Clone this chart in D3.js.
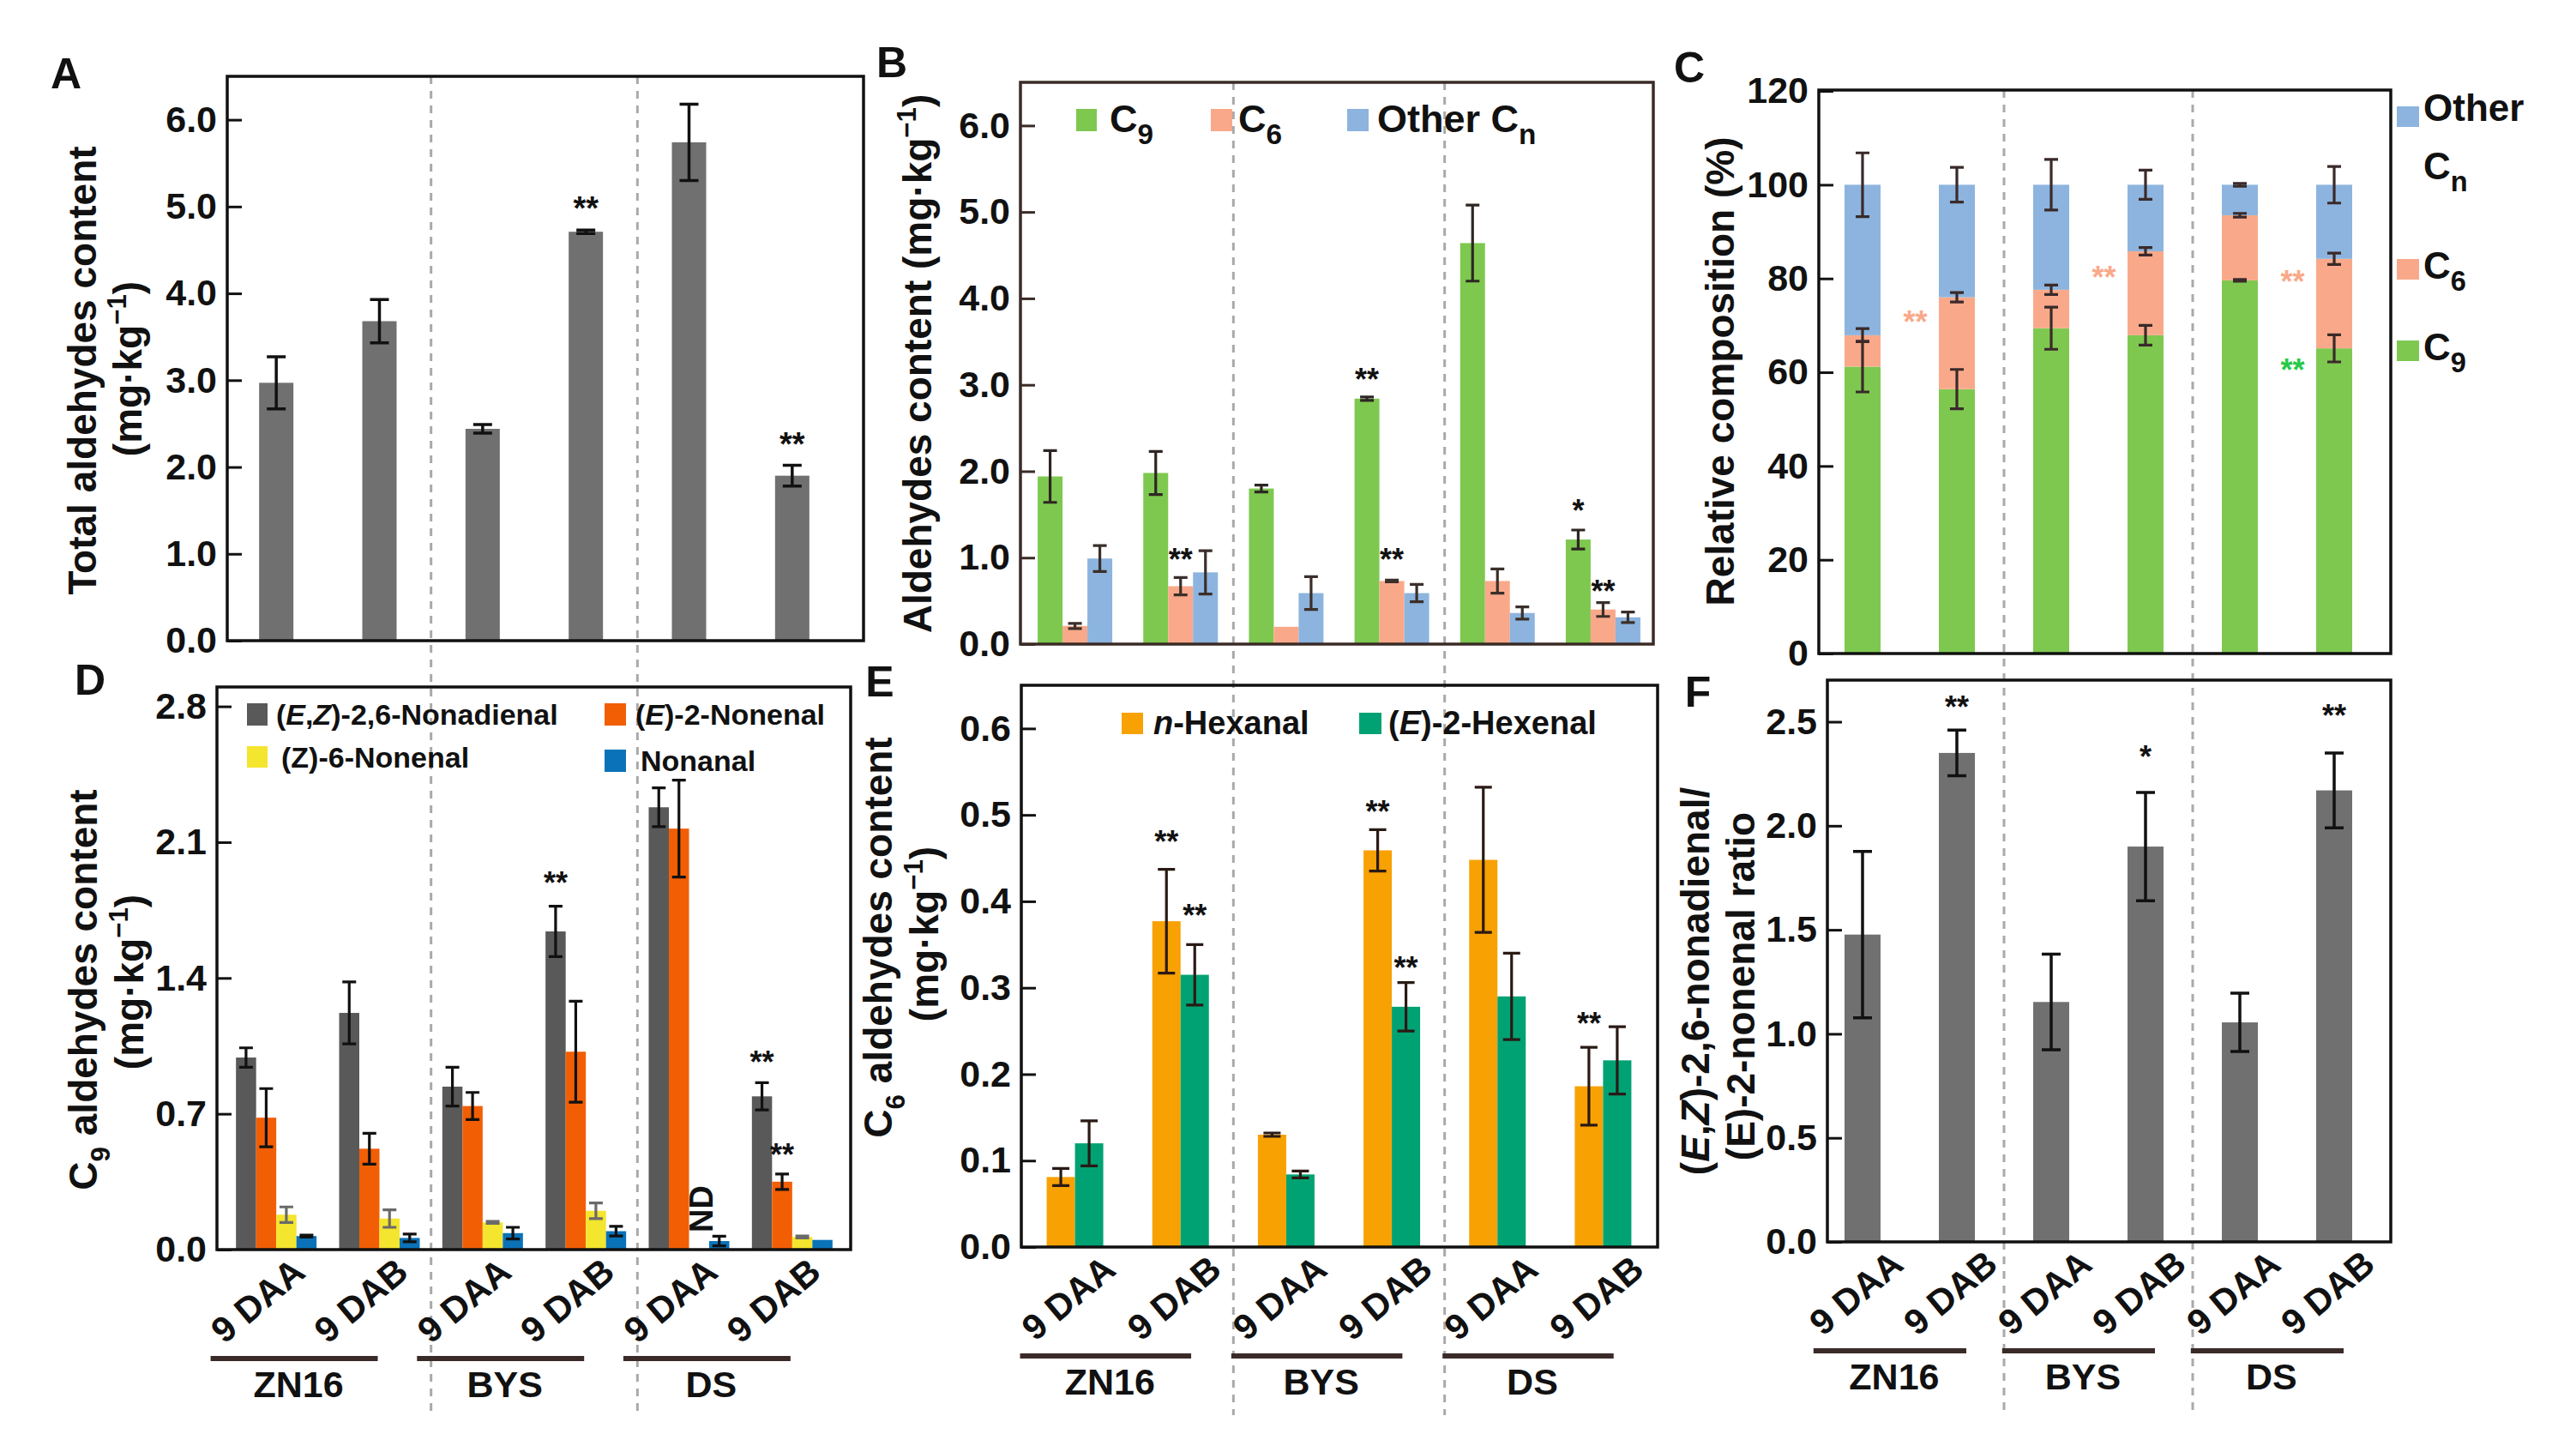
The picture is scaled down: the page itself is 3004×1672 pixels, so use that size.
<!DOCTYPE html>
<html>
<head>
<meta charset="utf-8">
<script src="https://cdn.jsdelivr.net/npm/d3@7"></script>
<style>
  body { margin: 0; background: #fff; }
  svg { display: block; }
</style>
</head>
<body>
<div id="chart"></div>
<script>
// x axis order, shared by every panel
const sampleLabels = ['9 DAA', '9 DAB', '9 DAA', '9 DAB', '9 DAA', '9 DAB'];
const cultivars = ['ZN16', 'BYS', 'DS'];

// A: total aldehydes (mg/kg)
const totalMean = [2.97, 3.68, 2.44, 4.71, 5.74, 1.90];
const totalErr = [0.30, 0.25, 0.05, 0.02, 0.44, 0.12];
const starsA = [{ s: 3, t: '**', v: 5.06 }, { s: 5, t: '**', v: 2.34 }];

// B: aldehydes by chain length (mg/kg)
const c9Mean = [1.94, 1.98, 1.80, 2.84, 4.64, 1.21];
const c9Err = [0.30, 0.25, 0.04, 0.02, 0.44, 0.11];
const c6Mean = [0.21, 0.67, 0.20, 0.73, 0.73, 0.40];
const c6Err = [0.03, 0.10, 0, 0.01, 0.14, 0.08];
const otherMean = [0.99, 0.83, 0.59, 0.59, 0.36, 0.31];
const otherErr = [0.15, 0.25, 0.19, 0.10, 0.07, 0.06];
const starsB = [
  { s: 1, k: 1, t: '**', v: 1.05 }, { s: 3, k: 0, t: '**', v: 3.13 },
  { s: 3, k: 1, t: '**', v: 1.05 }, { s: 5, k: 0, t: '*', v: 1.62 },
  { s: 5, k: 1, t: '**', v: 0.68 }
];

// C: relative composition (%)
const c9Pct = [61.2, 56.4, 69.4, 67.9, 79.6, 65.1];
const c9PctErr = [5.4, 4.2, 4.5, 2.1, 0.2, 2.9];
const c6Pct = [6.7, 19.6, 8.2, 17.9, 13.9, 19.1];
const c6PctErr = [1.4, 1.0, 1.0, 0.8, 0.4, 1.2];
const otherPct = [32.1, 24.0, 22.4, 14.2, 6.5, 15.8];
const otherPctErr = [6.8, 3.7, 5.4, 3.1, 0.3, 3.9];
const starsC = [
  { s: 1, t: '**', v: 72.0, c: 'c6' }, { s: 3, t: '**', v: 81.5, c: 'c6' },
  { s: 5, t: '**', v: 80.6, c: 'c6' }, { s: 5, t: '**', v: 61.8, c: 'c9' }
];

// D: C9 aldehydes (mg/kg)
const nonadienal = [0.99, 1.22, 0.84, 1.64, 2.28, 0.79];
const nonadienalErr = [0.05, 0.16, 0.10, 0.13, 0.10, 0.07];
const e2Nonenal = [0.68, 0.52, 0.74, 1.02, 2.17, 0.35];
const e2NonenalErr = [0.15, 0.08, 0.07, 0.26, 0.25, 0.04];
const z6Nonenal = [0.18, 0.16, 0.14, 0.20, 0, 0.065];
const z6NonenalErr = [0.04, 0.045, 0.005, 0.04, 0, 0.005];
const nonanal = [0.07, 0.06, 0.085, 0.095, 0.044, 0.05];
const nonanalErr = [0.005, 0.02, 0.03, 0.025, 0.025, 0];
const starsD = [{ s: 3, k: 0, t: '**', v: 1.92 }, { s: 5, k: 0, t: '**', v: 1.00 }, { s: 5, k: 1, t: '**', v: 0.52 }];
const ndD = [{ s: 4, k: 2, v: 0.21 }];

// E: C6 aldehydes (mg/kg)
const hexanal = [0.081, 0.377, 0.130, 0.459, 0.448, 0.186];
const hexanalErr = [0.010, 0.060, 0.002, 0.024, 0.084, 0.045];
const hexenal = [0.120, 0.315, 0.084, 0.278, 0.290, 0.216];
const hexenalErr = [0.026, 0.035, 0.004, 0.028, 0.050, 0.039];
const starsE = [
  { s: 1, k: 0, t: '**', v: 0.476 }, { s: 1, k: 1, t: '**', v: 0.391 },
  { s: 3, k: 0, t: '**', v: 0.511 }, { s: 3, k: 1, t: '**', v: 0.330 },
  { s: 5, k: 0, t: '**', v: 0.266 }
];

// F: (E,Z)-2,6-nonadienal / (E)-2-nonenal
const ratioMean = [1.477, 2.35, 1.153, 1.90, 1.055, 2.17];
const ratioErr = [0.40, 0.11, 0.23, 0.26, 0.14, 0.18];
const starsF = [{ s: 1, t: '**', v: 2.60 }, { s: 3, t: '*', v: 2.36 }, { s: 5, t: '**', v: 2.56 }];

// tick labels
const ticksA = [0, 1, 2, 3, 4, 5, 6];
const ticksC = [0, 20, 40, 60, 80, 100, 120];
const ticksD = [0, 0.7, 1.4, 2.1, 2.8];
const ticksE = [0, 0.1, 0.2, 0.3, 0.4, 0.5, 0.6];
const ticksF = [0, 0.5, 1.0, 1.5, 2.0, 2.5];

const FONT = '"Liberation Sans", Arial, Helvetica, sans-serif';
const COL = {
  gray: '#707070', c9: '#7ec850', c6: '#f9a98a', cn: '#8cb4de',
  dGray: '#595959', dOrange: '#f25e04', dYellow: '#f4e52e', dBlue: '#0a72b8',
  eOrange: '#f8a102', eGreen: '#00a273', starGreen: '#27c94a'
};

const W = 3004, H = 1672;
const svg = d3.select('#chart').append('svg')
  .attr('width', W).attr('height', H)
  .attr('font-family', FONT)
  .style('background', '#fff');

const idx = d3.range(6);
const xCol = [
  d3.scaleBand().domain(idx).range([262, 984]),
  d3.scaleBand().domain(idx).range([1192, 1931]),
  d3.scaleBand().domain(idx).range([2117, 2777])
];
const cx = (s, i) => s(i) + s.bandwidth() / 2;

const panels = {
  A: { col: 0, x0: 265, x1: 1007, y0: 89, y1: 747, dom: [0, 6.5], ticks: ticksA, fmt: d3.format('.1f'), stroke: '#111' },
  B: { col: 1, x0: 1190, x1: 1928, y0: 96, y1: 751, dom: [0, 6.5], ticks: ticksA, fmt: d3.format('.1f'), stroke: '#3a2b26' },
  C: { col: 2, x0: 2121, x1: 2788, y0: 105, y1: 762, dom: [0, 120.2], ticks: ticksC, fmt: d3.format('d'), stroke: '#111' },
  D: { col: 0, x0: 253, x1: 992, y0: 801, y1: 1457, dom: [0, 2.9], ticks: ticksD, fmt: d3.format('.1f'), stroke: '#111', shift: -14 },
  E: { col: 1, x0: 1191, x1: 1933, y0: 799, y1: 1454, dom: [0, 0.65], ticks: ticksE, fmt: d3.format('.1f'), stroke: '#111', shift: 0 },
  F: { col: 2, x0: 2131, x1: 2788, y0: 793, y1: 1448, dom: [0, 2.7], ticks: ticksF, fmt: d3.format('.1f'), stroke: '#111', shift: 0 }
};

// rich text: parts = [[text, style]], style '' | 'i' | 'sub' | 'sup'
function rich(sel, parts, fs, subRatio = 0.68) {
  let shift = 0;
  parts.forEach(([t, st]) => {
    const ts = sel.append('tspan').text(t);
    const want = st === 'sub' ? fs * 0.32 : st === 'sup' ? -fs * 0.4 : 0;
    if (want !== shift) { ts.attr('dy', want - shift); shift = want; }
    if (st === 'sub' || st === 'sup') ts.attr('font-size', fs * subRatio);
    if (st === 'i') ts.attr('font-style', 'italic');
  });
}

function errPath(c, yt, yb, cap) {
  return `M${c - cap},${yt}H${c + cap}M${c},${yt}V${yb}M${c - cap},${yb}H${c + cap}`;
}

// y axes
Object.values(panels).forEach(p => {
  p.y = d3.scaleLinear().domain(p.dom).range([p.y1, p.y0]);
  p.x = xCol[p.col];
  const ax = d3.axisLeft(p.y).tickValues(p.ticks).tickFormat(p.fmt).tickSize(-17).tickPadding(12);
  const ag = svg.append('g')
    .attr('transform', `translate(${p.x0},0)`)
    .call(ax)
    .attr('font-family', FONT)
    .attr('font-size', 43)
    .attr('font-weight', 'bold');
  ag.select('.domain').remove();
  ag.selectAll('.tick line').attr('stroke', p.stroke).attr('stroke-width', 3);
  ag.selectAll('.tick text').attr('fill', '#111');
  p.g = svg.append('g');
});

// dashed separators between cultivars (one per column, through both panels)
const sepSpan = [[89, 1645], [96, 1650], [105, 1650]];
xCol.forEach((s, c) => {
  [2, 4].forEach(i => {
    svg.append('line')
      .attr('x1', s(i)).attr('x2', s(i))
      .attr('y1', sepSpan[c][0]).attr('y2', sepSpan[c][1])
      .attr('stroke', '#a9a9a9').attr('stroke-width', 3)
      .attr('stroke-dasharray', '9,8');
  });
});

// simple single bars (A, F)
function singleBars(p, mean, err, color, bw, cap, errColor) {
  const g = p.g;
  g.selectAll('rect.bar').data(idx).join('rect').attr('class', 'bar')
    .attr('x', i => cx(p.x, i) - bw / 2).attr('width', bw)
    .attr('y', i => p.y(mean[i])).attr('height', i => p.y(0) - p.y(mean[i]))
    .attr('fill', color);
  g.selectAll('path.err').data(idx.filter(i => err[i] > 0)).join('path').attr('class', 'err')
    .attr('d', i => errPath(cx(p.x, i), p.y(mean[i] + err[i]), p.y(mean[i] - err[i]), cap))
    .attr('fill', 'none').attr('stroke', errColor).attr('stroke-width', 3.5);
}

// grouped bars (B, D, E)
function groupedBars(p, series, half, cap) {
  const inner = d3.scaleBand().domain(d3.range(series.length)).range([-half, half]);
  const recs = [];
  series.forEach((sr, k) => idx.forEach(i => recs.push({ i, k, v: sr.mean[i], e: sr.err[i], sr })));
  const xc = d => cx(p.x, d.i) + inner(d.k) + inner.bandwidth() / 2;
  p.g.selectAll('rect.bar').data(recs.filter(d => d.v > 0)).join('rect').attr('class', 'bar')
    .attr('x', d => xc(d) - inner.bandwidth() / 2).attr('width', inner.bandwidth())
    .attr('y', d => p.y(d.v)).attr('height', d => p.y(0) - p.y(d.v))
    .attr('fill', d => d.sr.color);
  p.g.selectAll('path.err').data(recs.filter(d => d.e > 0)).join('path').attr('class', 'err')
    .attr('d', d => errPath(xc(d), p.y(d.v + d.e), p.y(d.v - d.e), cap))
    .attr('fill', 'none').attr('stroke', d => d.sr.errColor).attr('stroke-width', 3.2);
  p.xc = (i, k) => cx(p.x, i) + inner(k) + inner.bandwidth() / 2;
}

function stars(p, list, xf, fs, colorf) {
  p.g.selectAll('text.star').data(list).join('text').attr('class', 'star')
    .attr('x', xf).attr('y', d => p.y(d.v) + fs * 0.55)
    .attr('text-anchor', 'middle').attr('font-size', fs).attr('font-weight', 'bold')
    .attr('fill', colorf || '#111')
    .text(d => d.t);
}

// ---- A
const pA = panels.A;
singleBars(pA, totalMean, totalErr, COL.gray, 40, 11, '#111');
stars(pA, starsA, d => cx(pA.x, d.s), 38);

// ---- B
const pB = panels.B;
groupedBars(pB, [
  { mean: c9Mean, err: c9Err, color: COL.c9, errColor: '#2e2622' },
  { mean: c6Mean, err: c6Err, color: COL.c6, errColor: '#3b2f2b' },
  { mean: otherMean, err: otherErr, color: COL.cn, errColor: '#3b2f2b' }
], 43.5, 8);
stars(pB, starsB, d => pB.xc(d.s, d.k), 36);

// ---- C (stacked)
const pC = panels.C;
const stackRows = idx.map(i => ({ i, c9: c9Pct[i], c6: c6Pct[i], cn: otherPct[i] }));
const stacked = d3.stack().keys(['c9', 'c6', 'cn'])(stackRows);
const errC = { c9: c9PctErr, c6: c6PctErr, cn: otherPctErr };
const bwC = 42;
stacked.forEach(layer => {
  pC.g.selectAll(null).data(layer).join('rect')
    .attr('x', d => cx(pC.x, d.data.i) - bwC / 2).attr('width', bwC)
    .attr('y', d => pC.y(d[1])).attr('height', d => pC.y(d[0]) - pC.y(d[1]))
    .attr('fill', COL[layer.key]);
});
stacked.forEach(layer => {
  pC.g.selectAll(null).data(layer).join('path')
    .attr('d', d => {
      const e = errC[layer.key][d.data.i];
      return errPath(cx(pC.x, d.data.i), pC.y(d[1] + e), pC.y(d[1] - e), 8);
    })
    .attr('fill', 'none').attr('stroke', '#3a2a2a').attr('stroke-width', 3.2);
});
stars(pC, starsC, d => cx(pC.x, d.s) - pC.x.step() * 0.44, 36, d => d.c === 'c9' ? COL.starGreen : COL.c6);

// ---- D
const pD = panels.D;
groupedBars(pD, [
  { mean: nonadienal, err: nonadienalErr, color: COL.dGray, errColor: '#111' },
  { mean: e2Nonenal, err: e2NonenalErr, color: COL.dOrange, errColor: '#111' },
  { mean: z6Nonenal, err: z6NonenalErr, color: COL.dYellow, errColor: '#6a6a6a' },
  { mean: nonanal, err: nonanalErr, color: COL.dBlue, errColor: '#111' }
], 47, 8);
stars(pD, starsD, d => pD.xc(d.s, d.k), 36);
pD.g.selectAll('text.nd').data(ndD).join('text').attr('class', 'nd')
  .attr('transform', d => `translate(${pD.xc(d.s, d.k) + 16},${pD.y(d.v)}) rotate(-90)`)
  .attr('text-anchor', 'middle').attr('font-size', 38).attr('font-weight', 'bold')
  .attr('fill', '#111').text('ND');

// ---- E
const pE = panels.E;
groupedBars(pE, [
  { mean: hexanal, err: hexanalErr, color: COL.eOrange, errColor: '#2a1a14' },
  { mean: hexenal, err: hexenalErr, color: COL.eGreen, errColor: '#2a1a14' }
], 33, 10);
stars(pE, starsE, d => pE.xc(d.s, d.k), 36);

// ---- F
const pF = panels.F;
singleBars(pF, ratioMean, ratioErr, COL.gray, 42, 11, '#111');
stars(pF, starsF, d => cx(pF.x, d.s), 36);

// frames on top
Object.values(panels).forEach(p => {
  svg.append('rect')
    .attr('x', p.x0).attr('y', p.y0)
    .attr('width', p.x1 - p.x0).attr('height', p.y1 - p.y0)
    .attr('fill', 'none').attr('stroke', p.stroke).attr('stroke-width', 3.5);
});

// x tick labels and cultivar brackets (D, E, F)
[pD, pE, pF].forEach(p => {
  const g = svg.append('g').attr('font-size', 42).attr('font-weight', 'bold').attr('fill', '#111');
  g.selectAll('text.xl').data(idx).join('text').attr('class', 'xl')
    .attr('text-anchor', 'end')
    .attr('transform', i => `translate(${cx(p.x, i) + 50 + p.shift},${p.y1 + 30}) rotate(-40)`)
    .text(i => sampleLabels[i]);
  cultivars.forEach((c, j) => {
    const a = cx(p.x, 2 * j) - p.x.step() * 0.52 + p.shift;
    const b = cx(p.x, 2 * j + 1) + p.x.step() * 0.1 + p.shift;
    g.append('line')
      .attr('x1', a).attr('x2', b)
      .attr('y1', p.y1 + 127).attr('y2', p.y1 + 127)
      .attr('stroke', '#3a2a28').attr('stroke-width', 6);
    g.append('text')
      .attr('x', (a + b) / 2 + 5).attr('y', p.y1 + 172)
      .attr('text-anchor', 'middle').attr('font-size', 43)
      .text(c);
  });
});

// y axis titles (rotated)
const yTitles = [
  { x: 112, y: 432, parts: [['Total aldehydes content', '']] },
  { x: 165, y: 430, parts: [['(mg·kg', ''], ['−1', 'sup'], [')', '']] },
  { x: 1086, y: 424, parts: [['Aldehydes content (mg·kg', ''], ['−1', 'sup'], [')', '']] },
  { x: 2022, y: 433, parts: [['Relative composition (%)', '']] },
  { x: 113, y: 1154, parts: [['C', ''], ['9', 'sub'], [' aldehydes content', '']] },
  { x: 167, y: 1145, parts: [['(mg·kg', ''], ['−1', 'sup'], [')', '']] },
  { x: 1040, y: 1093, parts: [['C', ''], ['6', 'sub'], [' aldehydes content', '']] },
  { x: 1094, y: 1089, parts: [['(mg·kg', ''], ['−1', 'sup'], [')', '']] },
  { x: 1993, y: 1144, parts: [['(', ''], ['E', 'i'], [',', ''], ['Z', 'i'], [')-2,6-nonadienal/', '']] },
  { x: 2046, y: 1150, parts: [['(E)-2-nonenal ratio', '']] }
];
yTitles.forEach(t => {
  const el = svg.append('text')
    .attr('transform', `translate(${t.x},${t.y}) rotate(-90)`)
    .attr('text-anchor', 'middle').attr('font-size', 46).attr('font-weight', 'bold')
    .attr('fill', '#111');
  rich(el, t.parts, 46);
});

// legends
function legendItem(x, y, size, color, tx, ty, parts, fs, subRatio) {
  svg.append('rect').attr('x', x).attr('y', y).attr('width', size[0]).attr('height', size[1]).attr('fill', color);
  const el = svg.append('text').attr('x', tx).attr('y', ty)
    .attr('font-size', fs).attr('font-weight', 'bold').attr('fill', '#111');
  rich(el, parts, fs, subRatio);
}
// B
legendItem(1255, 127, [24, 26], COL.c9, 1294, 154, [['C', ''], ['9', 'sub']], 45, 0.74);
legendItem(1412, 127, [25, 26], COL.c6, 1444, 154, [['C', ''], ['6', 'sub']], 45, 0.74);
legendItem(1571, 127, [25, 26], COL.cn, 1606, 154, [['Other C', ''], ['n', 'sub']], 45, 0.74);
// C
legendItem(2795, 124, [26, 24], COL.cn, 2826, 141, [['Other', '']], 44);
svg.append('text').attr('x', 2826).attr('y', 209).attr('font-size', 44).attr('font-weight', 'bold')
  .attr('fill', '#111').call(el => rich(el, [['C', ''], ['n', 'sub']], 44, 0.74));
legendItem(2795, 302, [26, 24], COL.c6, 2826, 325, [['C', ''], ['6', 'sub']], 44, 0.74);
legendItem(2795, 397, [26, 24], COL.c9, 2826, 420, [['C', ''], ['9', 'sub']], 44, 0.74);
// D
legendItem(288, 820, [24, 26], COL.dGray, 322, 845, [['(', ''], ['E', 'i'], [',', ''], ['Z', 'i'], [')-2,6-Nonadienal', '']], 34);
legendItem(705, 820, [25, 26], COL.dOrange, 741, 845, [['(', ''], ['E', 'i'], [')-2-Nonenal', '']], 34);
legendItem(288, 870, [24, 25], COL.dYellow, 328, 895, [['(Z)-6-Nonenal', '']], 34);
legendItem(705, 874, [25, 26], COL.dBlue, 747, 899, [['Nonanal', '']], 34);
// E
legendItem(1308, 831, [25, 25], COL.eOrange, 1345, 856, [['n', 'i'], ['-Hexanal', '']], 38);
legendItem(1585, 831, [26, 25], COL.eGreen, 1619, 856, [['(', ''], ['E', 'i'], [')-2-Hexenal', '']], 38);

// panel letters
const letters = [['A', 77, 103], ['B', 1040, 90], ['C', 1970, 96], ['D', 105, 810], ['E', 1026, 812], ['F', 1980, 824]];
svg.selectAll('text.letter').data(letters).join('text').attr('class', 'letter')
  .attr('x', d => d[1]).attr('y', d => d[2])
  .attr('text-anchor', 'middle').attr('font-size', 50).attr('font-weight', 'bold')
  .attr('fill', '#111').text(d => d[0]);
</script>
</body>
</html>
